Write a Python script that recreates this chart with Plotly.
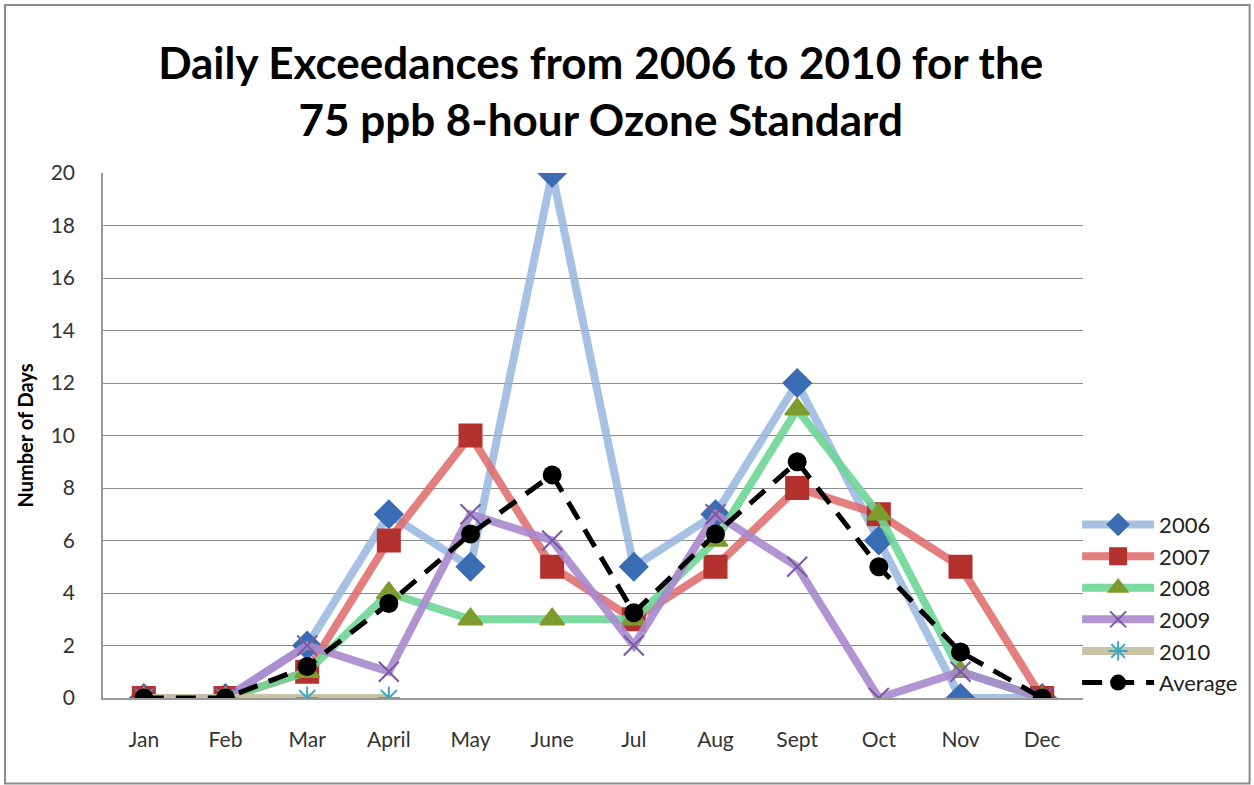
import plotly.graph_objects as go

months = ["Jan", "Feb", "Mar", "April", "May", "June", "Jul", "Aug", "Sept", "Oct", "Nov", "Dec"]

y2006 = [0, 0, 2, 7, 5, 20, 5, 7, 12, 6, 0, 0]
y2007 = [0, 0, 1, 6, 10, 5, 3, 5, 8, 7, 5, 0]
y2008 = [0, 0, 1, 4, 3, 3, 3, 6, 11, 7, 1, 0]
y2009 = [0, 0, 2, 1, 7, 6, 2, 7, 5, 0, 1, 0]
y2010 = [0, 0, 0, 0]
y_avg = [0, 0, 1.2, 3.6, 6.25, 8.5, 3.25, 6.25, 9, 5, 1.75, 0]

FONT = "Lato, 'Open Sans', sans-serif"

SERIES = [
    ("2006", y2006, "rgba(150,182,222,0.85)", "#3A6DB3", "diamond", 21),
    ("2007", y2007, "rgba(222,104,104,0.85)", "#B3322E", "square", 22),
    ("2008", y2008, "rgba(110,214,150,0.9)", "#7D9B2E", "triangle-up", 21),
    ("2009", y2009, "rgba(170,136,205,0.9)", "#7A58A2", "x-thin-open", 20),
    ("2010", y2010, "rgba(200,192,160,0.95)", "#3FA9C5", "asterisk-open", 19),
]

fig = go.Figure()

for name, vals, lcol, mcol, sym, size in SERIES:
    fig.add_trace(go.Scatter(
        x=months[:len(vals)],
        y=vals,
        mode="lines+markers",
        name=name,
        line=dict(color=lcol, width=8),
        marker=dict(symbol=sym, size=size, color=mcol,
                    line=dict(color=mcol, width=2)),
    ))

fig.add_trace(go.Scatter(
    x=months,
    y=y_avg,
    mode="lines+markers",
    name="Average",
    line=dict(color="black", width=5, dash="20px,12px"),
    marker=dict(symbol="circle", size=19, color="black"),
))

fig.update_layout(
    width=1254,
    height=785,
    paper_bgcolor="white",
    plot_bgcolor="white",
    margin=dict(l=103, r=171, t=173, b=87, autoexpand=False),
    title=dict(
        text="<b>Daily Exceedances from 2006 to 2010 for the<br>75 ppb 8-hour Ozone Standard</b>",
        x=0.479, xanchor="center", y=0.9, yanchor="middle",
        font=dict(family=FONT, size=44, color="black"),
    ),
    font=dict(family=FONT, size=21, color="#333333"),
    showlegend=True,
    legend=dict(
        x=0.994, xanchor="left", y=0.37, yanchor="top",
        font=dict(family=FONT, size=22, color="#222222"),
        itemwidth=72, tracegroupgap=0, bgcolor="rgba(0,0,0,0)",
    ),
    shapes=[dict(type="rect", xref="paper", yref="paper",
                 x0=-0.1, x1=1.170, y0=-0.163, y1=1.32,
                 line=dict(color="#8a8a8a", width=2))],
)

fig.update_xaxes(
    range=[-0.5, 11.5],
    showgrid=False,
    showline=True, linecolor="#999999", linewidth=1.5,
    ticks="", ticklabelstandoff=22, tickfont=dict(size=21, color="#333333"),
)
fig.update_yaxes(
    range=[0, 20], dtick=2,
    showgrid=True, gridcolor="#8c8c8c", gridwidth=1,
    zeroline=False,
    showline=True, linecolor="#999999", linewidth=1.5,
    ticks="", ticklabelstandoff=22, tickfont=dict(size=21, color="#333333"),
    title=dict(text="<b>Number of Days</b>", font=dict(family=FONT, size=20, color="black"), standoff=12),
)

fig.write_html("out.html", config={"displayModeBar": False},
               post_script="document.body.style.margin='0';")
